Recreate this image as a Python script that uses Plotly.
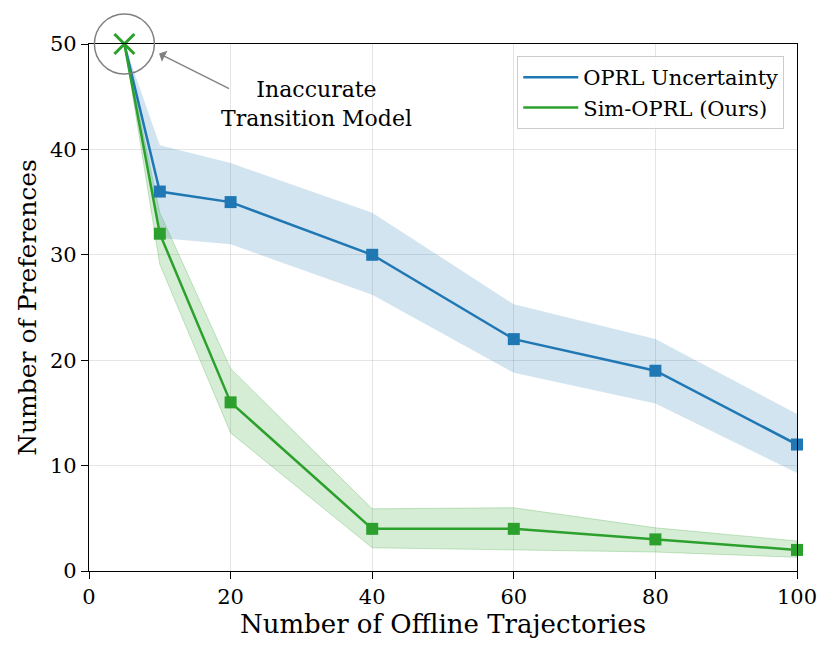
import plotly.graph_objects as go

x = [5, 10, 20, 40, 60, 80, 100]
oprl_mean = [50, 36, 35, 30, 22, 19, 12]
oprl_upper = [50, 40.4, 38.7, 34.0, 25.3, 22.0, 14.9]
oprl_lower = [50, 31.6, 31.0, 26.2, 18.8, 15.9, 9.3]
sim_mean = [50, 32, 16, 4, 4, 3, 2]
sim_upper = [50, 34.0, 19.2, 5.9, 6.0, 4.1, 2.85]
sim_lower = [50, 29.1, 13.1, 2.2, 2.0, 1.8, 1.3]

blue = "#1f77b4"
green = "#2ca02c"
font = "DejaVu Serif"

fig = go.Figure()

# bands
fig.add_trace(go.Scatter(x=x + x[::-1], y=oprl_upper + oprl_lower[::-1], fill="toself", mode="lines",
                         fillcolor="rgba(31,119,180,0.2)", line=dict(width=0),
                         hoverinfo="skip", showlegend=False))
fig.add_trace(go.Scatter(x=x + x[::-1], y=sim_upper + sim_lower[::-1], fill="toself", mode="lines",
                         fillcolor="rgba(44,160,44,0.2)", line=dict(color="rgba(44,160,44,0.25)", width=1),
                         hoverinfo="skip", showlegend=False))

# lines
fig.add_trace(go.Scatter(x=x, y=oprl_mean, mode="lines", line=dict(color=blue, width=2.5),
                         name="OPRL Uncertainty", cliponaxis=False))
fig.add_trace(go.Scatter(x=x[1:], y=oprl_mean[1:], mode="markers",
                         marker=dict(symbol="square", size=12, color=blue), showlegend=False,
                         cliponaxis=False))
fig.add_trace(go.Scatter(x=x, y=sim_mean, mode="lines", line=dict(color=green, width=2.5),
                         name="Sim-OPRL (Ours)", cliponaxis=False))
fig.add_trace(go.Scatter(x=x[1:], y=sim_mean[1:], mode="markers",
                         marker=dict(symbol="square", size=12, color=green), showlegend=False,
                         cliponaxis=False))
fig.add_trace(go.Scatter(x=x[:1], y=sim_mean[:1], mode="markers",
                         marker=dict(symbol="x-thin", size=20, line=dict(color=green, width=3)),
                         showlegend=False, cliponaxis=False))

# circle around the first point (paper coords so it is not clipped)
fig.add_shape(type="circle", xref="paper", yref="paper", xsizemode="pixel", ysizemode="pixel",
              xanchor=x[0] / 100, yanchor=sim_mean[0] / 50, x0=-30, x1=30, y0=-30, y1=30,
              line=dict(color="#808080", width=1.5))

fig.add_annotation(x=9.9, y=49.1, ax=20, ay=45.7, axref="x", ayref="y", xref="x", yref="y",
                   text="", showarrow=True, arrowhead=1, arrowsize=1.6, arrowwidth=1.3,
                   arrowcolor="#808080")
fig.add_annotation(x=32.2, y=44.3, xref="x", yref="y", text="Inaccurate<br>Transition Model",
                   showarrow=False, font=dict(family=font, size=22, color="black"), align="center")

axis_common = dict(showline=True, linecolor="black", linewidth=1.2, mirror=True,
                   ticks="outside", ticklen=7, tickcolor="black",
                   showgrid=True, gridcolor="rgba(0,0,0,0.1)", gridwidth=1,
                   zeroline=False, automargin=False,
                   tickfont=dict(family=font, size=21, color="black"))

fig.update_xaxes(range=[0, 100], dtick=20, title=dict(text="Number of Offline Trajectories",
                 font=dict(family=font, size=26, color="black"), standoff=4), **axis_common)
fig.update_yaxes(range=[0, 50], dtick=10, title=dict(text="Number of Preferences",
                 font=dict(family=font, size=25, color="black"), standoff=6), **axis_common)

fig.update_layout(
    width=830, height=652,
    margin=dict(l=81, r=41, t=36, b=89),
    plot_bgcolor="white", paper_bgcolor="white",
    font=dict(family=font, color="black"),
    legend=dict(x=0.982, y=0.977, xanchor="right", yanchor="top", itemwidth=55,
                bgcolor="rgba(255,255,255,0.85)", bordercolor="#cccccc", borderwidth=1,
                font=dict(family=font, size=21, color="black")),
)

fig.write_html("out.html")
